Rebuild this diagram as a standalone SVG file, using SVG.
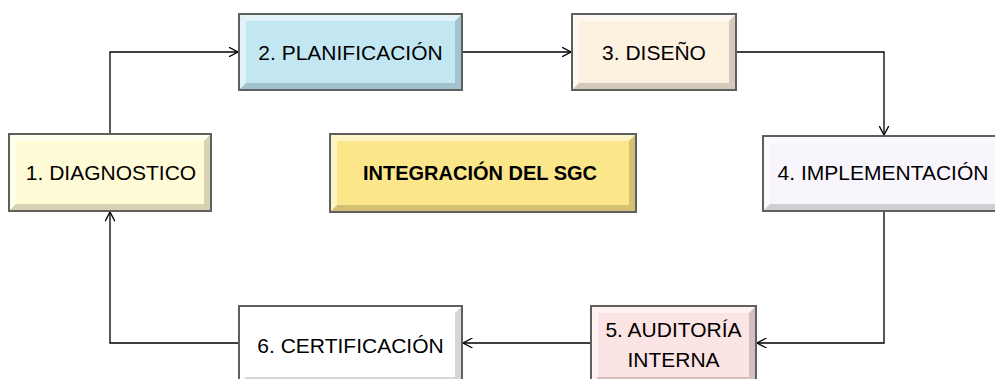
<svg xmlns="http://www.w3.org/2000/svg" width="995" height="379" viewBox="0 0 995 379">
<defs>
<style>
.frame{stroke:#5f5f5f;stroke-width:2}
.bevL{fill:#ffffff;opacity:0.5}
.bevD{fill:#000000;opacity:0.16}
.t{font-family:"Liberation Sans",Arial,sans-serif;font-size:21px;fill:#000;text-anchor:middle}
.tb{font-family:"Liberation Sans",Arial,sans-serif;font-size:20px;font-weight:bold;fill:#000;text-anchor:middle}
.c{fill:none;stroke:#000;stroke-width:1.3}
</style>
<marker id="arr" viewBox="0 0 10 10" refX="9.5" refY="5" markerWidth="10" markerHeight="10" markerUnits="userSpaceOnUse" orient="auto">
<path d="M0,0 L9.5,5 L0,10" fill="none" stroke="#000" stroke-width="1.3"/>
</marker>
</defs>
<rect width="995" height="379" fill="#fff"/>

<g id="connectors">
<path class="c" d="M110,134 V52 H238" marker-end="url(#arr)"/>
<path class="c" d="M462,52 H571" marker-end="url(#arr)"/>
<path class="c" d="M736,52 H884 V135" marker-end="url(#arr)"/>
<path class="c" d="M884,211 V343 H757" marker-end="url(#arr)"/>
<path class="c" d="M591,343 H463" marker-end="url(#arr)"/>
<path class="c" d="M239,343 H110 V212" marker-end="url(#arr)"/>
</g>

<g id="n1">
<rect class="frame" x="9" y="134" width="202" height="77" fill="#fffbd6"/>
<path class="bevL" d="M10,135 H210 L204,141 H16 V204 L10,210 Z"/>
<path class="bevD" d="M210,135 V210 H10 L16,204 H204 V141 Z"/>
<text class="t" x="111" y="180">1. DIAGNOSTICO</text>
</g>

<g id="n2">
<rect class="frame" x="239" y="14" width="223" height="76" fill="#c2e7f3"/>
<path class="bevL" d="M240,15 H461 L455,21 H246 V83 L240,89 Z"/>
<path class="bevD" d="M461,15 V89 H240 L246,83 H455 V21 Z"/>
<text class="t" x="350.5" y="60">2. PLANIFICACIÓN</text>
</g>

<g id="n3">
<rect class="frame" x="572" y="14" width="164" height="76" fill="#fdf1e0"/>
<path class="bevL" d="M573,15 H735 L729,21 H579 V83 L573,89 Z"/>
<path class="bevD" d="M735,15 V89 H573 L579,83 H729 V21 Z"/>
<text class="t" x="654" y="60">3. DISEÑO</text>
</g>

<g id="n4">
<rect class="frame" x="763" y="136" width="240" height="75" fill="#f8f5fd"/>
<path class="bevL" d="M764,137 H1002 L996,143 H770 V204 L764,210 Z"/>
<path class="bevD" d="M1002,137 V210 H764 L770,204 H996 V143 Z"/>
<text class="t" x="883" y="180">4. IMPLEMENTACIÓN</text>
</g>

<g id="n5">
<rect class="frame" x="591" y="306" width="165" height="78" fill="#fce4e4"/>
<path class="bevL" d="M592,307 H755 L749,313 H598 V377 L592,383 Z"/>
<path class="bevD" d="M755,307 V383 H592 L598,377 H749 V313 Z"/>
<text class="t" x="673.5" y="337">5. AUDITORÍA</text>
<text class="t" x="673.5" y="367">INTERNA</text>
</g>

<g id="n6">
<rect class="frame" x="239" y="306" width="223" height="78" fill="#ffffff"/>
<path class="bevL" d="M240,307 H461 L455,313 H246 V377 L240,383 Z"/>
<path class="bevD" d="M461,307 V383 H240 L246,377 H455 V313 Z"/>
<text class="t" x="350.5" y="353">6. CERTIFICACIÓN</text>
</g>

<g id="center">
<rect class="frame" x="330" y="134" width="306" height="78" fill="#fbe68a"/>
<path class="bevL" d="M331,135 H635 L629,141 H337 V205 L331,211 Z"/>
<path class="bevD" d="M635,135 V211 H331 L337,205 H629 V141 Z"/>
<text class="tb" x="480" y="180">INTEGRACIÓN DEL SGC</text>
</g>
</svg>
